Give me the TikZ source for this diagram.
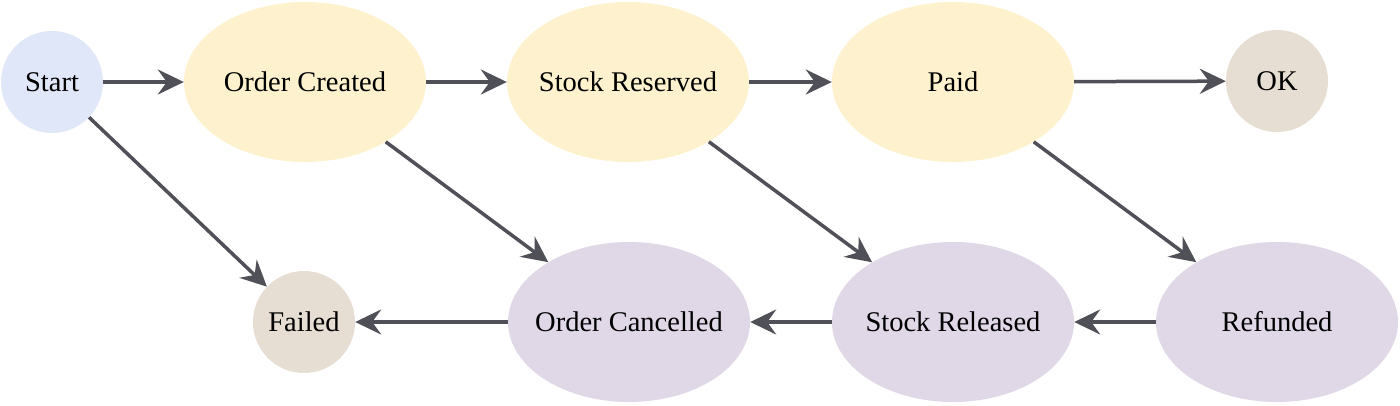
\documentclass[tikz,border=0pt]{standalone}
\usepackage{fontspec}
\setmainfont{Liberation Serif}
\usetikzlibrary{shapes.geometric,arrows.meta}
\definecolor{startblue}{HTML}{DFE7F8}
\definecolor{stepyellow}{HTML}{FDF2CD}
\definecolor{endbeige}{HTML}{E6DDD3}
\definecolor{steplav}{HTML}{E0D7E7}
\definecolor{linegray}{HTML}{505058}
\newcommand{\ctext}[1]{\makebox[0pt][c]{#1}}
\begin{document}
\begin{tikzpicture}[x=1pt,y=-1pt,
  font=\fontsize{28.5}{34}\selectfont,
  statebox/.style={ellipse, minimum width=242pt, minimum height=160pt, inner sep=0pt, draw=none},
  termbox/.style={circle, minimum size=102pt, inner sep=0pt, draw=none},
  conn/.style={-{Stealth[length=26pt,width=25pt,inset=9pt]}, line width=3.5pt, draw=linegray}]
\useasboundingbox (0,0) rectangle (1400,405);
\node[termbox, fill=startblue] (start) at (52,82) {\ctext{Start}};
\node[statebox, fill=stepyellow] (created) at (305,82) {\ctext{Order Created}};
\node[statebox, fill=stepyellow] (reserved) at (628,82) {\ctext{Stock Reserved}};
\node[statebox, fill=stepyellow] (paid) at (953,82) {\ctext{Paid}};
\node[termbox, fill=endbeige] (ok) at (1277,81) {\ctext{OK}};
\node[termbox, fill=endbeige] (failed) at (304,322) {\ctext{Failed}};
\node[statebox, fill=steplav] (cancelled) at (629,322) {\ctext{Order Cancelled}};
\node[statebox, fill=steplav] (released) at (953,322) {\ctext{Stock Released}};
\node[statebox, fill=steplav] (refunded) at (1277,322) {\ctext{Refunded}};
\draw[conn] (start) -- (created);
\draw[conn] (created) -- (reserved);
\draw[conn] (reserved) -- (paid);
\draw[conn] (paid) -- (ok);
\draw[conn] (start) -- (failed);
\draw[conn] (created) -- (cancelled);
\draw[conn] (reserved) -- (released);
\draw[conn] (paid) -- (refunded);
\draw[conn] (cancelled) -- (failed);
\draw[conn] (released) -- (cancelled);
\draw[conn] (refunded) -- (released);
\end{tikzpicture}
\end{document}
